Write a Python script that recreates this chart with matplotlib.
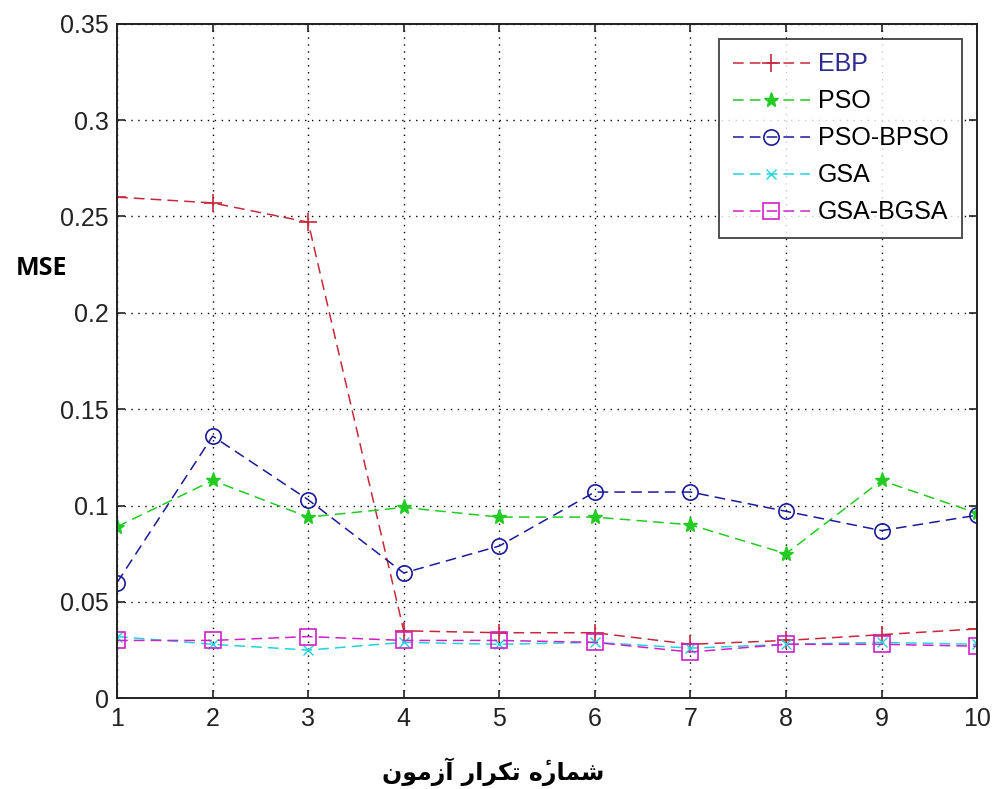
import matplotlib.pyplot as plt
import numpy as np

# run number (x axis)
runs = np.arange(1, 11)

# MSE values
ebp = [0.260, 0.257, 0.247, 0.035, 0.034, 0.034, 0.028, 0.030, 0.033, 0.036]
pso = [0.089, 0.113, 0.094, 0.099, 0.094, 0.094, 0.090, 0.075, 0.113, 0.096]
pso_bpso = [0.060, 0.136, 0.103, 0.065, 0.079, 0.107, 0.107, 0.097, 0.087, 0.095]
gsa = [0.032, 0.028, 0.025, 0.029, 0.028, 0.029, 0.026, 0.028, 0.029, 0.028]
gsa_bgsa = [0.030, 0.030, 0.032, 0.030, 0.030, 0.029, 0.024, 0.028, 0.028, 0.027]

names = ["EBP", "PSO", "PSO-BPSO", "GSA", "GSA-BGSA"]
yticks = [0, 0.05, 0.1, 0.15, 0.2, 0.25, 0.3, 0.35]
ytick_labels = ["0", "0.05", "0.1", "0.15", "0.2", "0.25", "0.3", "0.35"]

# x label: "شمارۀ تکرار آزمون" written with Arabic presentation forms
# (matplotlib does no shaping), laid out in visual (right to left) order.
# each word is listed left-to-right as it is drawn
word_azmoon = "\uFEE5\uFEEE\uFEE3\uFEAF\uFE81"          # آزمون
word_tekrar = "\uFEAD\uFE8D\uFEAE\uFB91\uFE97"          # تکرار
word_shomare = "\uFEE9\u0654\uFEAD\uFE8E\uFEE4\uFEB7"   # شمارۀ
xlabel_visual = word_azmoon + " " + word_tekrar + " " + word_shomare

plt.rcParams['font.family'] = ['Liberation Sans', 'DejaVu Sans']

fig = plt.figure(figsize=(9.92, 7.89), dpi=100)
ax = fig.add_axes([0.118, 0.115, 0.867, 0.855])

dash = (0, (7, 4))
ax.plot(runs, ebp, color="#c8283c", linestyle=dash, marker="+", markersize=13,
        markeredgewidth=1.2, linewidth=1.1, label=names[0])
ax.plot(runs, pso, color="#22cc22", linestyle=dash, marker="*", markersize=11,
        markeredgewidth=1.0, linewidth=1.1, label=names[1])
ax.plot(runs, pso_bpso, color="#1a1a9a", linestyle=dash, marker="o", markersize=11,
        markerfacecolor="none", markeredgewidth=1.2, linewidth=1.1, label=names[2])
ax.plot(runs, gsa, color="#22d4dc", linestyle=dash, marker="x", markersize=7,
        markeredgewidth=1.0, linewidth=1.1, label=names[3])
ax.plot(runs, gsa_bgsa, color="#d020c8", linestyle=dash, marker="s", markersize=12,
        markerfacecolor="none", markeredgewidth=1.2, linewidth=1.1, label=names[4])

ax.set_xlim(1, 10)
ax.set_ylim(0, 0.35)
ax.set_xticks(runs)
ax.set_yticks(yticks)
ax.set_yticklabels(ytick_labels)
ax.tick_params(direction="in", length=6, width=1.2, labelsize=18, colors="#222222",
               top=True, right=True, pad=6)
ax.grid(True, linestyle=(0, (1, 4)), color="black", linewidth=1.0)
for s in ax.spines.values():
    s.set_linewidth(1.4)
    s.set_color("#222222")

leg = ax.legend(loc="upper right", fontsize=18, frameon=True, fancybox=False,
                edgecolor="#222222", handlelength=3.1, borderpad=0.55,
                labelspacing=0.52, handletextpad=0.3, borderaxespad=0.6)
leg.get_frame().set_linewidth(1.4)
leg.texts[0].set_color("#2a2a90")

fig.text(0.042, 0.66, "MSE", fontsize=18, fontweight="bold", ha="center", va="center",
         family=["Open Sans", "DejaVu Sans"])
fig.text(0.497, 0.022, xlabel_visual, fontsize=17, fontweight="bold", ha="center",
         va="center", family="DejaVu Sans")

fig.savefig("out.png", dpi=100)
